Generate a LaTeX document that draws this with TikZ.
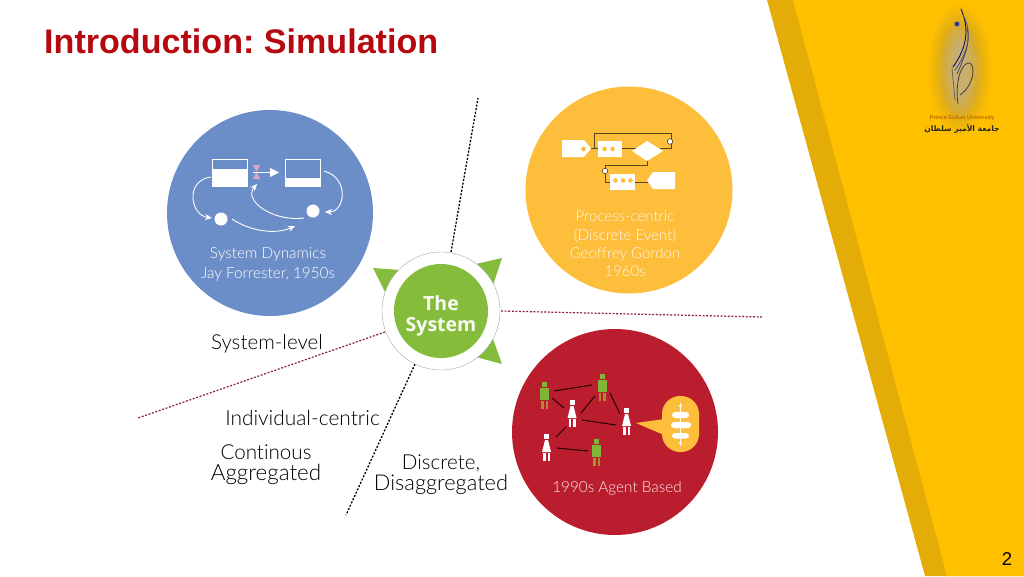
\documentclass[tikz,border=0pt]{standalone}
\usepackage{fontspec}
\setmainfont[Ligatures=NoCommon]{Lato Light}
\newfontfamily\titlefont{Liberation Sans}
\newfontfamily\hubfont{Open Sans}
\newfontfamily\arabicfont[Script=Arabic]{DejaVu Sans}
\TeXXeTstate=1
\usetikzlibrary{arrows.meta}
\definecolor{blueC}{HTML}{6C8EC8}
\definecolor{yellowC}{HTML}{FDBE3C}
\definecolor{redC}{HTML}{BA1E2E}
\definecolor{greenC}{HTML}{85BC3C}
\definecolor{gold}{HTML}{FFC000}
\definecolor{darkgold}{HTML}{E3AC07}
\definecolor{titleC}{HTML}{B5090F}
\definecolor{dotR}{HTML}{8A1F50}
\definecolor{pinkC}{HTML}{D9A6C8}
\definecolor{agentG}{HTML}{7FB539}
\definecolor{agentL}{HTML}{B08A30}
\definecolor{lineK}{HTML}{5A4520}
\definecolor{haloA}{HTML}{C9AE70}
\definecolor{haloB}{HTML}{DCAA18}
\tikzset{
 x=1pt,y=-1pt,
 disc/.style={circle,inner sep=0pt,minimum size=206pt,draw=none},
 wlabel/.style={text=white,align=center,font=\fontsize{15.3}{20}\selectfont,inner sep=0pt},
 blabel/.style={text=black,align=center,font=\fontsize{20.6}{21}\selectfont,inner sep=0pt},
 dotK/.style={black,line width=1.3pt,dash pattern=on 2pt off 1.6pt},
 dotM/.style={dotR,line width=1.2pt,dash pattern=on 2pt off 1.6pt},
 wline/.style={white,line width=.9pt,-{Stealth[length=7pt,width=6pt]}},
 pline/.style={lineK,line width=1pt},
 aline/.style={black!85!red,line width=1pt},
 logostroke/.style={line width=.8pt,line cap=round},
}
\newcommand{\managent}[2]{
 \fill[agentG] (#1-2.5,#2-13) rectangle (#1+2.5,#2-8);
 \fill[agentG] (#1-4.5,#2-7) rectangle (#1+4.5,#2+5);
 \fill[agentL] (#1-3.5,#2+6) rectangle (#1-1,#2+14);
 \fill[agentL] (#1+1,#2+6) rectangle (#1+3.5,#2+14);
}
\newcommand{\womanagent}[2]{
 \fill[white] (#1-2.5,#2-13) rectangle (#1+2.5,#2-8);
 \fill[white] (#1-1.5,#2-7) -- (#1+1.5,#2-7) -- (#1+4.5,#2+5) -- (#1-4.5,#2+5) -- cycle;
 \fill[white] (#1-3.5,#2+6) rectangle (#1-1,#2+14);
 \fill[white] (#1+1,#2+6) rectangle (#1+3.5,#2+14);
}
\begin{document}
\frenchspacing
\begin{tikzpicture}
\useasboundingbox (0,0) rectangle (1024,576);
\fill[white] (0,0) rectangle (1024,576);
% corner bands
\fill[darkgold] (767,0) -- (1024,0) -- (1024,576) -- (925,576) -- cycle;
\fill[gold] (793,0) -- (1024,0) -- (1024,576) -- (947,576) -- cycle;
% logo halo
\foreach \i in {0,2,...,30}{
 \pgfmathsetmacro{\rx}{33-0.85*\i}
 \pgfmathsetmacro{\ry}{68-1.35*\i}
 \pgfmathsetmacro{\mixA}{min(100,\i*6)}
 \pgfmathsetmacro{\mixB}{max(0,(\i-12)*5.5)}
 \fill[color=haloA!\mixB!haloB!\mixA!gold] (960,70) ellipse ({\rx} and {\ry});
}
\draw[logostroke,black!60!blue] (961,9) .. controls (969,28) and (968,46) .. (953,67);
\draw[logostroke,blue!40!black!70] (963,15) .. controls (973,33) and (968,52) .. (955,70);
\draw[logostroke,black!70] (967,28) .. controls (971,42) and (964,58) .. (957,74);
\draw[logostroke,black!75] (958,104) .. controls (955,85) and (960,65) .. (968,63) .. controls (976,62) and (975,85) .. (960,95);
\draw[logostroke,black!60] (952,68) -- (955,100);
\fill[blue!45!black!80] (957,24) circle (2.4);
\node[inner sep=0pt,text=titleC!35!gold!85!black,font=\titlefont\bfseries\fontsize{5.6}{6}\selectfont] (logoen) at (962,118) {Prince Sultan University};
\node[inner sep=0pt,text=black!85,font=\arabicfont\bfseries\fontsize{7.6}{9}\selectfont] (logoar) at (962,128.5) {\beginR جامعة الأمير سلطان\endR};
% title, page number
\node[anchor=west,inner sep=0pt,text=titleC,font=\titlefont\bfseries\fontsize{34.1}{36}\selectfont] (title) at (44,41) {Introduction: Simulation};
\node[inner sep=0pt,text=black,font=\titlefont\fontsize{18.5}{20}\selectfont] (page) at (1007,559) {2};
% dotted line ends
\coordinate (tTop) at (478,98);
\coordinate (tBot) at (346,515);
\coordinate (tRight) at (762,317);
\coordinate (tLeft) at (138,418);
\coordinate (hTop) at (451,252);
\coordinate (hBot) at (415,364);
\coordinate (hRight) at (501,311);
\coordinate (hLeft) at (385,332);
\draw[dotK] (hTop) -- (tTop);
\draw[dotK] (hBot) -- (tBot);
\draw[dotM] (hRight) -- (tRight);
\draw[dotM] (hLeft) -- (tLeft);
% discs
\node[disc,fill=blueC] (blue) at (270,213) {};
\node[disc,fill=yellowC,minimum size=207pt] (yellow) at (629,190) {};
\node[disc,fill=redC] (red) at (615,432) {};
% hub
\fill[greenC] (373,268) -- (400,270) -- (385,292) -- cycle;
\fill[greenC] (502,258) -- (476,264) -- (493,285) -- cycle;
\fill[greenC] (502,364) -- (476,357) -- (493,339) -- cycle;
\node[circle,fill=white,draw=black!35,line width=.4pt,minimum size=118pt,inner sep=0pt] (hubOuter) at (441,311) {};
\node[circle,fill=greenC,minimum size=94pt,inner sep=0pt] (hub) at (441,311) {};
\node[inner sep=0pt,text=white!95!greenC,align=center,font=\hubfont\bfseries\fontsize{19.5}{21}\selectfont] (hubT) at (441,316) {The\\System};
% blue disc content
\node[minimum width=35pt,minimum height=27pt,inner sep=0pt,draw=white,line width=.7pt] (st1) at (229.5,172.5) {};
\fill[white] (212,169) rectangle (247,186);
\node[minimum width=35pt,minimum height=27pt,inner sep=0pt,draw=white,line width=.7pt] (st2) at (302.5,172.5) {};
\fill[white] (285,178) rectangle (320,186);
\fill[pinkC] (253,165) -- (260,165) -- (256.5,172) -- (260,179) -- (253,179) -- (256.5,172) -- cycle;
\draw[white,line width=1pt,-{Triangle[length=9pt,width=9pt]}] (253,172.5) -- (279,172.5);
\node[circle,fill=white,minimum size=13pt,inner sep=0pt] (a1) at (221,219) {};
\node[circle,fill=white,minimum size=13pt,inner sep=0pt] (a2) at (313,211) {};
\draw[wline] (211,177) .. controls (185,180) and (190,215) .. (212,218);
\draw[wline] (324,171) .. controls (350,178) and (345,212) .. (325,212);
\draw[wline] (232,219) .. controls (250,231) and (275,235) .. (295,226);
\draw[wline] (304,218) .. controls (272,222) and (243,200) .. (257,184);
\node[wlabel] (blueT) at (268,264) {System Dynamics\\Jay Forrester, 1950s};
% yellow disc content
\draw[pline] (594,148) -- (594,133) -- (671,133) -- (671,148) -- (660,148);
\draw[pline] (620,148) -- (636,148);
\draw[pline] (590,148) -- (600,148);
\draw[pline] (647,158) -- (647,165) -- (605,165) -- (605,182) -- (612,182);
\draw[pline] (633,182) -- (650,182);
\fill[white] (562,140) -- (584,140) -- (591,148.5) -- (584,157) -- (562,157) -- cycle;
\fill[yellowC] (583.5,149) circle (2.4);
\node[fill=white,minimum width=24pt,minimum height=16pt,inner sep=0pt] (q1) at (610,149) {};
\fill[yellowC] (604.5,149) circle (2.3) (612.5,149) circle (2.3);
\fill[white] (632,151) -- (647,141) -- (663,151) -- (647,161) -- cycle;
\node[circle,fill=white,draw=lineK,line width=.6pt,minimum size=5.5pt,inner sep=0pt] (g1) at (670,141.5) {};
\node[circle,fill=white,draw=lineK,line width=.6pt,minimum size=5.5pt,inner sep=0pt] (g2) at (605,171) {};
\node[fill=white,minimum width=25pt,minimum height=16pt,inner sep=0pt] (q2) at (622.5,182) {};
\fill[yellowC] (615.5,180.5) circle (2.3) (623,180.5) circle (2.3) (630.5,180.5) circle (2.3);
\fill[white] (675,172) -- (653,172) -- (647,180.5) -- (653,189) -- (675,189) -- cycle;
\node[wlabel,text=white!88!yellowC,font=\fontsize{15}{18.3}\selectfont] (yellowT) at (625,244) {Process-centric\\(Discrete Event)\\Geoffrey Gordon\\1960s};
% red disc content
\coordinate (m1) at (544.5,395);
\coordinate (m2) at (602,387);
\coordinate (m3) at (596.5,452);
\coordinate (w1) at (572,413);
\coordinate (w2) at (626.5,421);
\coordinate (w3) at (546.5,447);
\draw[aline] (554,391) -- (592,385);
\draw[aline] (552,398) -- (564,408);
\draw[aline] (581,413) -- (595,396);
\draw[aline] (610,393) -- (620,414);
\draw[aline] (582,420) -- (616,425);
\draw[aline] (566,427) -- (556,437);
\draw[aline] (557,448) -- (588,451);
\managent{544.5}{395}
\managent{602}{387}
\managent{596.5}{452}
\womanagent{572}{413}
\womanagent{626.5}{421}
\womanagent{546.5}{447}
\fill[yellowC] (636,423) -- (664,435) -- (664,419) -- cycle;
\fill[yellowC,rounded corners=18pt] (662,396) rectangle (699,452);
\fill[white,rounded corners=3pt] (672,412) rectangle (689,418) (671,422) rectangle (691,428) (672,433) rectangle (689,438.5);
\draw[white,line width=.5pt] (680.5,403) -- (680.5,446);
\fill[white] (680.5,406) circle (1.7) (680.5,443) circle (1.7);
\node[wlabel,text=white!90!redC] (redT) at (617,488.5) {1990s Agent Based};
% black labels
\node[blabel] (sysL) at (267,343.5) {System-level};
\node[blabel,font=\fontsize{20.9}{21}\selectfont] (indL) at (302.5,417.5) {Individual-centric};
\node[blabel] (contL) at (266,465) {Continous\\{\fontsize{22.4}{21}\selectfont Aggregated}};
\node[blabel] (discL) at (441,475) {Discrete,\\{\fontsize{21.8}{21}\selectfont Disaggregated}};
\end{tikzpicture}
\end{document}
